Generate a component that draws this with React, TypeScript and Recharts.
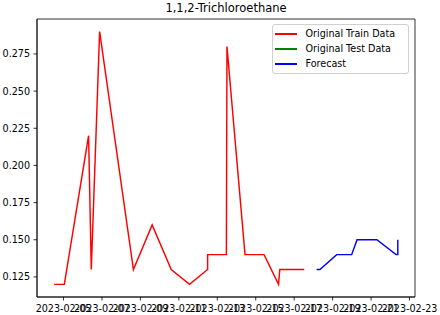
import React from 'react';
import { LineChart, Line, XAxis, YAxis, Legend, ReferenceArea } from 'recharts';

const trainTimes = [
  '2023-02-04T12:20', '2023-02-05T01:00', '2023-02-06T07:18', '2023-02-06T10:40',
  '2023-02-06T21:04', '2023-02-08T15:16', '2023-02-09T14:40', '2023-02-10T14:28',
  '2023-02-11T13:22', '2023-02-12T11:54', '2023-02-12T11:55', '2023-02-13T11:20',
  '2023-02-13T12:04', '2023-02-14T10:36', '2023-02-15T10:24', '2023-02-16T04:25',
  '2023-02-16T06:03', '2023-02-17T12:29',
];
const trainValues = [
  0.12, 0.12, 0.22, 0.13,
  0.29, 0.13, 0.16, 0.13,
  0.12, 0.13, 0.14, 0.14,
  0.28, 0.14, 0.14, 0.12,
  0.13, 0.13,
];

const testTimes: string[] = [];
const testValues: number[] = [];

const forecastTimes = [
  '2023-02-18T04:00', '2023-02-18T08:08', '2023-02-19T05:02', '2023-02-19T23:46',
  '2023-02-20T06:29', '2023-02-21T07:12', '2023-02-22T07:12', '2023-02-22T09:22',
  '2023-02-22T09:23',
];
const forecastValues = [0.13, 0.13, 0.14, 0.14, 0.15, 0.15, 0.14, 0.14, 0.15];

const xTickLabels = [
  '2023-02-05', '2023-02-07', '2023-02-09', '2023-02-11', '2023-02-13',
  '2023-02-15', '2023-02-17', '2023-02-19', '2023-02-21', '2023-02-23',
];
const yTicks = [0.125, 0.15, 0.175, 0.2, 0.225, 0.25, 0.275];

const toMs = (s: string) => Date.parse(s + ':00Z');
const build = (times: string[], values: number[]) =>
  times.map((t, i) => ({ t: toMs(t), v: values[i] }));

const trainData = build(trainTimes, trainValues);
const testData = build(testTimes, testValues);
const forecastData = build(forecastTimes, forecastValues);

const allT = [...trainData, ...testData, ...forecastData].map((d) => d.t);
const allV = [...trainData, ...testData, ...forecastData].map((d) => d.v);
const tMin = Math.min(...allT);
const tMax = Math.max(...allT);
const vMin = Math.min(...allV);
const vMax = Math.max(...allV);
const xDomain: [number, number] = [tMin - (tMax - tMin) * 0.05, tMax + (tMax - tMin) * 0.05];
const yDomain: [number, number] = [vMin - (vMax - vMin) * 0.05, vMax + (vMax - vMin) * 0.05];
const xTicks = xTickLabels.map((s) => Date.parse(s + 'T00:00:00Z'));

const FONT = '"DejaVu Sans", sans-serif';

const legendItems = [
  { label: 'Original Train Data', color: '#ff0000' },
  { label: 'Original Test Data', color: '#008000' },
  { label: 'Forecast', color: '#0000ff' },
];

const LegendBox = () => (
  <div
    style={{
      position: 'relative',
      width: 137,
      height: 50,
      boxSizing: 'border-box',
      border: '1px solid #d0d0d0',
      borderRadius: 3,
      background: 'rgba(255,255,255,0.8)',
      fontFamily: FONT,
      fontSize: 9.6,
      color: '#000',
    }}
  >
    {legendItems.map((it, i) => (
      <div
        key={it.label}
        style={{ position: 'absolute', left: 0, top: 1.5 + i * 15, height: 15, width: '100%' }}
      >
        <div
          style={{
            position: 'absolute',
            left: 2,
            top: 6.8,
            width: 22,
            height: 1.5,
            background: it.color,
          }}
        />
        <div style={{ position: 'absolute', left: 32.5, top: 1.5, lineHeight: '12px', whiteSpace: 'nowrap' }}>
          {it.label}
        </div>
      </div>
    ))}
  </div>
);

export default function App() {
  return (
    <div style={{ position: 'absolute', left: 0, top: 0, width: 440, height: 315, background: '#fff' }}>
      <div
        style={{
          position: 'absolute',
          left: 37,
          width: 378,
          top: 0.5,
          textAlign: 'center',
          fontFamily: FONT,
          fontSize: 11.5,
          lineHeight: '15px',
          color: '#000',
        }}
      >
        1,1,2-Trichloroethane
      </div>
      <LineChart
        width={440}
        height={315}
        margin={{ top: 19, right: 25, bottom: 0, left: 0 }}
        style={{ fontFamily: FONT }}
      >
        <XAxis
          dataKey="t"
          type="number"
          domain={xDomain}
          ticks={xTicks}
          allowDataOverflow
          tickFormatter={(v: number) => new Date(v).toISOString().slice(0, 10)}
          height={18}
          tickSize={3.5}
          tickMargin={4.5}
          interval={0}
          axisLine={{ stroke: '#000', strokeWidth: 0.8 }}
          tickLine={{ stroke: '#000', strokeWidth: 0.8 }}
          tick={{ fill: '#000', fontSize: 9.6, fontFamily: FONT }}
        />
        <YAxis
          type="number"
          domain={yDomain}
          ticks={yTicks}
          allowDataOverflow
          tickFormatter={(v: number) => v.toFixed(3)}
          width={37}
          tickSize={3.5}
          tickMargin={3.5}
          interval={0}
          axisLine={{ stroke: '#000', strokeWidth: 0.8 }}
          tickLine={{ stroke: '#000', strokeWidth: 0.8 }}
          tick={{ fill: '#000', fontSize: 9.6, fontFamily: FONT }}
        />
        <ReferenceArea
          x1={xDomain[0]}
          x2={xDomain[1]}
          y1={yDomain[0]}
          y2={yDomain[1]}
          fill="none"
          stroke="#000"
          strokeWidth={0.8}
          ifOverflow="extendDomain"
        />
        <Line
          data={trainData}
          dataKey="v"
          name="Original Train Data"
          type="linear"
          stroke="#ff0000"
          strokeWidth={1.45}
          dot={false}
          isAnimationActive={false}
        />
        <Line
          data={testData}
          dataKey="v"
          name="Original Test Data"
          type="linear"
          stroke="#008000"
          strokeWidth={1.45}
          dot={false}
          isAnimationActive={false}
        />
        <Line
          data={forecastData}
          dataKey="v"
          name="Forecast"
          type="linear"
          stroke="#0000ff"
          strokeWidth={1.45}
          dot={false}
          isAnimationActive={false}
        />
        <Legend
          layout="vertical"
          align="center"
          verticalAlign="middle"
          wrapperStyle={{ left: 272, top: 24, width: 137, height: 50 }}
          content={() => <LegendBox />}
        />
      </LineChart>
    </div>
  );
}
